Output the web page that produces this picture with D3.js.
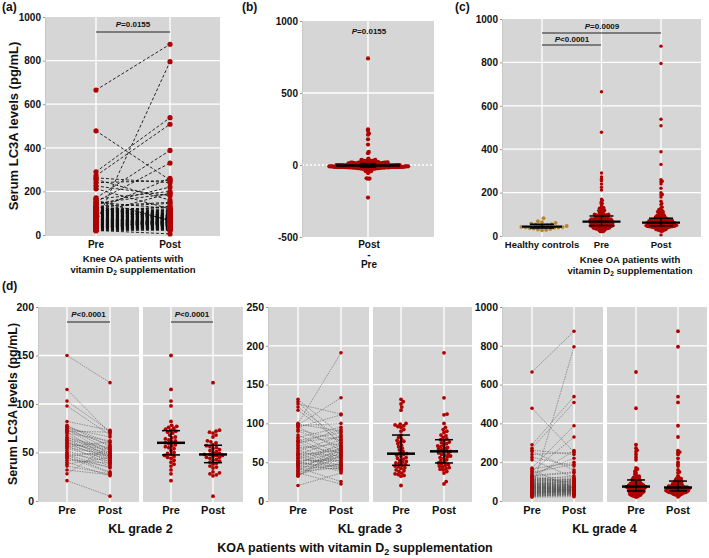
<!DOCTYPE html>
<html><head><meta charset="utf-8">
<script src="https://cdn.jsdelivr.net/npm/d3@7"></script>
<style>
body{margin:0;background:#fff}
svg{display:block}
text{font-family:"Liberation Sans",Arial,sans-serif;font-weight:bold;fill:#111}
</style>
</head><body>
<svg id="c" width="709" height="558"></svg>
<script>
// ---------------- DATA ----------------
const groups = ["Pre", "Post"];
const catsC = ["Healthy controls", "Pre", "Post"];

const kl2Pre  = [150,115,103,98,82,78,77,76,75,74,73,72,71,70,68,66,65,64,63,62,61,60,59,58,57,56,55,54,52,50,49,48,47,46,45,44,42,40,38,36,32,28,21];
const kl2Post = [122,70,72,68,73,56,60,52,66,48,58,71,44,62,50,47,55,42,54,46,40,49,53,45,38,61,48,43,36,47,41,34,30,51,29,35,39,26,45,28,27,57,5];

const kl3Pre  = [131,128,125,121,117,100,99,98,97,96,95,92,90,85,82,80,78,77,76,74,72,70,68,66,64,62,61,60,59,58,56,55,54,52,51,50,49,48,47,46,45,44,43,42,40,39,38,36,35,34,33,32,20];
const kl3Post = [85,72,112,80,76,191,90,133,100,65,111,78,70,60,95,55,88,50,82,92,62,48,74,45,84,58,42,79,66,40,71,46,68,52,38,64,44,57,75,56,41,61,25,53,47,69,43,22,63,49,59,67,36];

const kl4Pre  = [665,478,290,272,262,255,240,225,212,170,165,160,152,145,138,132,128,125,122,120,118,116,114,112,110,108,106,104,102,100,98,96,95,93,92,90,89,88,86,85,84,83,82,81,80,79,78,77,76,75,74,73,72,72,71,70,70,69,68,67,66,65,64,63,62,61,60,59,58,57,56,55,54,53,52,51,50,49,48,47,46,45,44,43,42,41,40,38,37,36,35,34,32,31,30,28,27,25,23,20];
const kl4Post = [875,252,538,508,240,160,250,180,120,388,200,66,330,190,220,150,145,118,95,110,260,105,100,98,130,92,88,115,85,112,80,102,78,96,76,90,74,86,72,84,70,82,68,108,66,79,64,77,62,75,60,73,58,71,56,69,55,67,54,65,53,63,52,61,51,59,50,57,49,74,48,795,47,62,46,58,45,54,44,50,43,70,42,60,41,56,40,52,38,48,36,64,34,44,32,40,30,35,28,22];

const healthy = [82,68,64,60,57,55,52,50,48,46,44,42,41,40,39,38,36,34,32,30,28,26];

const ticksA = [0,200,400,600,800,1000];
const ticksB = [-500,0,500,1000];
const ticksKL2 = [0,50,100,150,200];
const ticksKL3 = [0,50,100,150,200,250];
const ticksKL4 = [0,200,400,600,800,1000];

// combined data (all KL grades)
const allPre = kl2Pre.concat(kl3Pre, kl4Pre);
const allPost = kl2Post.concat(kl3Post, kl4Post);
const diffs = allPost.map((v,i)=>v-allPre[i]);

// ---------------- HELPERS ----------------
const RED = "#b00000", GOLD = "#b8862b", BG = "#d6d6d6";
const svg = d3.select("#c");

function bg(x0,x1,y0,y1){
  svg.append("rect").attr("x",x0).attr("y",y0).attr("width",x1-x0).attr("height",y1-y0).attr("fill",BG);
}
function hgrid(y, ticks, x0, x1, dash){
  svg.append("g").selectAll("line").data(ticks).join("line")
    .attr("x1",x0).attr("x2",x1).attr("y1",d=>y(d)).attr("y2",d=>y(d))
    .attr("stroke","#fff").attr("stroke-width",1.3).attr("stroke-dasharray",dash||null);
}
function vgrid(x, cats, y0, y1){
  svg.append("g").selectAll("line").data(cats).join("line")
    .attr("x1",d=>x(d)).attr("x2",d=>x(d)).attr("y1",y0).attr("y2",y1)
    .attr("stroke","#fff").attr("stroke-width",1.3);
}
function yAxis(y, ticks, x0, fs){
  const g = svg.append("g").attr("transform",`translate(${x0},0)`)
    .call(d3.axisLeft(y).tickValues(ticks).tickFormat(d=>String(d)).tickSize(2).tickSizeOuter(0).tickPadding(2));
  g.select(".domain").attr("stroke","#c8c8c8");
  g.selectAll(".tick line").attr("stroke","#999");
  g.selectAll("text").attr("font-size",fs).attr("font-family","Liberation Sans, Arial, sans-serif").attr("font-weight","bold").attr("fill","#111");
}
function xLabels(x, cats, yb, fs){
  svg.append("g").selectAll("text").data(cats).join("text")
    .attr("x",d=>x(d)).attr("y",yb).attr("text-anchor","middle").attr("font-size",fs).text(d=>d);
}
function text(x,y,s,fs,anchor){
  return svg.append("text").attr("x",x).attr("y",y).attr("font-size",fs).attr("text-anchor",anchor||"middle").text(s);
}
function d2text(x,y,pre,fs){
  const t = svg.append("text").attr("x",x).attr("y",y).attr("font-size",fs).attr("text-anchor","middle");
  t.append("tspan").text(pre+"D");
  t.append("tspan").attr("font-size",fs*0.7).attr("dy",fs*0.25).text("2");
  t.append("tspan").attr("dy",-fs*0.25).text(" supplementation");
}
function ptext(x,y,s,fs){
  const t = svg.append("text").attr("x",x).attr("y",y).attr("font-size",fs).attr("text-anchor","middle");
  t.append("tspan").attr("font-style","italic").text("P");
  t.append("tspan").text(s);
}
function pbar(x1,x2,y){
  svg.append("line").attr("x1",x1).attr("x2",x2).attr("y1",y).attr("y2",y).attr("stroke","#222").attr("stroke-width",1.2);
}
function paired(x, y, pre, post, r, st){
  const g = svg.append("g");
  const pairs = pre.map((v,i)=>[v,post[i]]);
  g.append("g").selectAll("line").data(pairs).join("line")
    .attr("x1",x("Pre")).attr("x2",x("Post")).attr("y1",d=>y(d[0])).attr("y2",d=>y(d[1]))
    .attr("stroke",st.color).attr("stroke-width",st.w).attr("stroke-dasharray",st.dash);
  g.append("g").selectAll("circle").data(pre).join("circle")
    .attr("cx",x("Pre")).attr("cy",d=>y(d)).attr("r",r).attr("fill",RED);
  g.append("g").selectAll("circle").data(post).join("circle")
    .attr("cx",x("Post")).attr("cy",d=>y(d)).attr("r",r).attr("fill",RED);
}
function swarm(values, cx, y, r, dc, color){
  const pts = values.map(v=>({v, y:y(v)})).sort((a,b)=>b.y-a.y);
  const placed = [];
  pts.forEach(p=>{
    const near = placed.filter(q=>Math.abs(q.y-p.y)<dc);
    const cands = [0];
    near.forEach(q=>{ const dx = Math.sqrt(dc*dc-(q.y-p.y)**2); cands.push(q.x+dx, q.x-dx); });
    cands.sort((a,b)=>Math.abs(a)-Math.abs(b));
    p.x = 0;
    for(const c of cands){
      if(near.every(q=>(c-q.x)**2+(p.y-q.y)**2 >= dc*dc-1e-6)){ p.x=c; break; }
    }
    placed.push(p);
  });
  svg.append("g").selectAll("circle").data(placed).join("circle")
    .attr("cx",d=>cx+d.x).attr("cy",d=>d.y).attr("r",r).attr("fill",color);
}
function summary(values, cx, y, wm, wc, sm){
  const s = values.slice().sort(d3.ascending);
  const med = d3.quantile(s,0.5), q1 = d3.quantile(s,0.25), q3 = d3.quantile(s,0.75);
  const g = svg.append("g").attr("stroke","#000");
  g.append("line").attr("x1",cx).attr("x2",cx).attr("y1",y(q1)).attr("y2",y(q3)).attr("stroke-width",1.5);
  g.append("line").attr("x1",cx-wc).attr("x2",cx+wc).attr("y1",y(q1)).attr("y2",y(q1)).attr("stroke-width",1.5);
  g.append("line").attr("x1",cx-wc).attr("x2",cx+wc).attr("y1",y(q3)).attr("y2",y(q3)).attr("stroke-width",1.5);
  g.append("line").attr("x1",cx-wm).attr("x2",cx+wm).attr("y1",y(med)).attr("y2",y(med)).attr("stroke-width",sm);
}

// ---------------- PANEL (a) ----------------
{
  const x0=45,x1=220,y0=17,y1=236;
  const y = d3.scaleLinear().domain([0,1000]).range([235,17]);
  const x = d3.scalePoint().domain(groups).range([96,170]);
  bg(x0,x1,y0,y1);
  hgrid(y,[200,400,600,800],x0,x1);
  vgrid(x,groups,y0,y1);
  yAxis(y,ticksA,x0,10);
  paired(x,y,allPre,allPost,2.6,{color:"#111",w:0.9,dash:"3,2"});
  ptext(133,27,"=0.0155",8);
  pbar(96,170,32);
  xLabels(x,groups,248,10);
  text(133,262,"Knee  OA  patients  with",9.5);
  d2text(133,273,"vitamin  ",9.5);
  text(13,126,"Serum LC3A levels (pg/mL)",13).attr("transform","rotate(-90,13,126)").attr("dy","0.35em");
  text(2,11,"(a)",12,"start");
}

// ---------------- PANEL (b) ----------------
{
  const x0=302,x1=434,y0=21,y1=237;
  const y = d3.scaleLinear().domain([-500,1000]).range([237,21]);
  const x = d3.scalePoint().domain(["Post - Pre"]).range([x0,x1]).padding(0.5);
  bg(x0,x1,y0,y1);
  hgrid(y,[500],x0,x1);
  hgrid(y,[0],x0,x1,"2,2");
  vgrid(x,["Post - Pre"],y0,y1);
  yAxis(y,ticksB,x0,10);
  swarm(diffs,x("Post - Pre"),y,2.1,1.5,RED);
  summary(diffs,x("Post - Pre"),y,32,8,2.5);
  ptext(369,34,"=0.0155",8);
  text(369,248,"Post",10);
  text(369,258,"-",10);
  text(369,268,"Pre",10);
  text(242,11,"(b)",12,"start");
}

// ---------------- PANEL (c) ----------------
{
  const x0=502,x1=701,y0=19,y1=237;
  const y = d3.scaleLinear().domain([0,1000]).range([236,19]);
  const x = d3.scalePoint().domain(catsC).range([542,661]);
  bg(x0,x1,y0,y1);
  hgrid(y,[200,400,600,800],x0,x1);
  vgrid(x,catsC,y0,y1);
  yAxis(y,ticksA,x0,10);
  swarm(healthy,x("Healthy controls"),y,1.9,4.2,GOLD);
  swarm(allPre,x("Pre"),y,1.7,1.35,RED);
  swarm(allPost,x("Post"),y,1.7,1.35,RED);
  summary(healthy,x("Healthy controls"),y,20,12,2.3);
  summary(allPre,x("Pre"),y,19,12,2.3);
  summary(allPost,x("Post"),y,19,12,2.3);
  ptext(602,29,"=0.0009",8);
  pbar(542,661,33);
  ptext(572,42,"<0.0001",8);
  pbar(542,601,45);
  xLabels(x,catsC,248,9.5);
  text(630,263,"Knee  OA  patients  with",9.5);
  d2text(630,274,"vitamin  ",9.5);
  text(455,11,"(c)",12,"start");
}

// ---------------- PANEL (d) ----------------
function klBlock(pre, post, ticks, max, L, R, label, showP, dc){
  const y = d3.scaleLinear().domain([0,max]).range([501,307]);
  const xa = d3.scalePoint().domain(groups).range([L.pre,L.post]);
  const xb = d3.scalePoint().domain(groups).range([R.pre,R.post]);
  bg(L.x0,L.x1,307,502);
  bg(R.x0,R.x1,307,502);
  hgrid(y,ticks.slice(1,-1),L.x0,L.x1);
  hgrid(y,ticks.slice(1,-1),R.x0,R.x1);
  vgrid(xa,groups,307,502);
  vgrid(xb,groups,307,502);
  yAxis(y,ticks,L.x0,10.5);
  paired(xa,y,pre,post,1.8,{color:"#555",w:0.55,dash:"1.5,1"});
  swarm(pre,xb("Pre"),y,1.9,dc,RED);
  swarm(post,xb("Post"),y,1.9,dc,RED);
  summary(pre,xb("Pre"),y,14,9,2.5);
  summary(post,xb("Post"),y,14,9,2.5);
  xLabels(xa,groups,514,11);
  xLabels(xb,groups,514,11);
  text((L.x0+R.x1)/2,533,label,12.5);
  if(showP){
    ptext((L.pre+L.post)/2,317,"<0.0001",8);
    pbar(L.pre,L.post,322);
    ptext((R.pre+R.post)/2,317,"<0.0001",8);
    pbar(R.pre,R.post,322);
  }
}
klBlock(kl2Pre,kl2Post,ticksKL2,200,{x0:38,x1:139,pre:67,post:110},{x0:143,x1:243,pre:171,post:213},"KL grade 2",true,3.6);
klBlock(kl3Pre,kl3Post,ticksKL3,250,{x0:268,x1:369,pre:298,post:341},{x0:373,x1:472,pre:401,post:444},"KL grade 3",false,3.2);
klBlock(kl4Pre,kl4Post,ticksKL4,1000,{x0:502,x1:603,pre:532,post:574},{x0:607,x1:707,pre:636,post:678},"KL grade 4",false,1.75);

text(13,404,"Serum LC3A levels (pg/mL)",12.5).attr("transform","rotate(-90,13,404)").attr("dy","0.35em");
text(2,290,"(d)",12,"start");
{
  const t = svg.append("text").attr("x",355).attr("y",552).attr("font-size",12.5).attr("text-anchor","middle");
  t.append("tspan").text("KOA patients with vitamin D");
  t.append("tspan").attr("font-size",9).attr("dy",3).text("2");
  t.append("tspan").attr("dy",-3).text(" supplementation");
}
</script>
</body></html>
